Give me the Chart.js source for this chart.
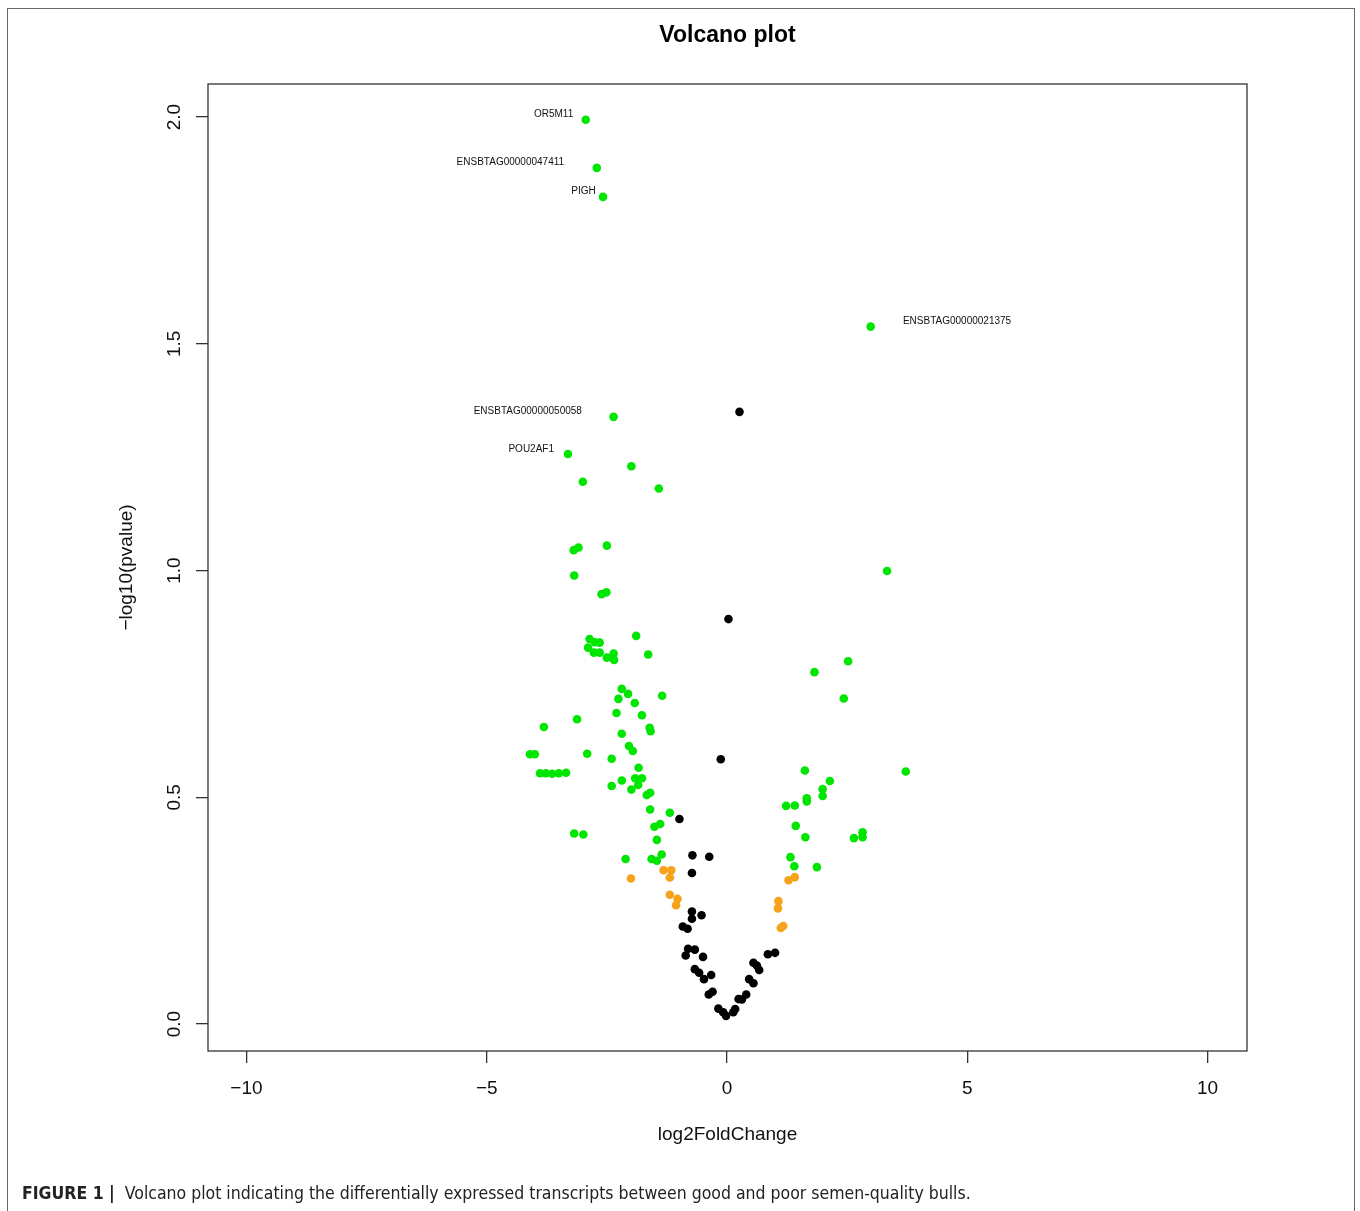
<!DOCTYPE html>
<html>
<head>
<meta charset="utf-8">
<title>Volcano plot</title>
<script src="https://cdn.jsdelivr.net/npm/chart.js@4"></script>
<style>
    html, body { margin: 0; padding: 0; background: #fff; }
    #wrap { position: relative; width: 1360px; height: 1211px; overflow: hidden; }
    #frame { position: absolute; left: 7px; top: 8px; width: 1348px; height: 1240px; border: 1px solid #666; box-sizing: border-box; }
    #chart { position: absolute; left: 0; top: 0; }
    #caption {
        position: absolute; left: 22px; top: 1183px; white-space: nowrap;
        font-family: "Liberation Sans Narrow", "DejaVu Sans Condensed", "Liberation Sans", sans-serif;
        font-stretch: condensed; font-size: 17.5px; color: #222;
    }
    #caption b { font-weight: bold; }
</style>
</head>
<body>
<div id="wrap">
    <div id="frame"></div>
    <canvas id="chart" width="1360" height="1211"></canvas>
    <div id="caption"><b>FIGURE 1 |</b>&nbsp; Volcano plot indicating the differentially expressed transcripts between good and poor semen-quality bulls.</div>
</div>
<script>
// Significant (|log2FC| > 1 and p-value cut) — green
const greenX = [-2.94, -2.71, -2.58, 2.99, -2.36, -3.31, -1.99, -3.00, -1.42, -3.19, -3.09, -2.50, -3.18, 3.33,
    -2.61, -2.51, -1.89, -2.86, -2.75, -2.65, -2.89, -2.77, -2.65, -1.64, -2.50, -2.36, -2.35,
    -2.19, -2.06, -1.35, -2.26, -1.92, -2.30, -1.77, -3.12, -3.81, -1.61, -1.59, -2.19, -2.04, -1.96,
    -4.10, -4.00, -2.91, -2.40, -1.84, -3.89, -3.77, -3.64, -3.50, -3.35, -2.19, -1.91, -1.77, -1.85,
    -2.40, -1.99, -1.67, -1.60, -1.60, -1.19, -1.51, -1.39, -3.18, -2.99, -1.46, -1.36, -2.11, -1.57, -1.46,
    2.52, 1.82, 2.43, 1.62, 3.72, 2.14, 1.99, 1.99, 1.66, 1.66, 1.23, 1.41, 1.43, 1.63, 2.64, 2.82, 2.82,
    1.32, 1.40, 1.87];
const greenY = [1.994, 1.888, 1.824, 1.538, 1.339, 1.257, 1.230, 1.196, 1.181, 1.045, 1.051, 1.055, 0.989, 0.999,
    0.948, 0.952, 0.856, 0.849, 0.842, 0.841, 0.830, 0.819, 0.819, 0.815, 0.808, 0.817, 0.803,
    0.739, 0.728, 0.724, 0.717, 0.708, 0.686, 0.681, 0.672, 0.655, 0.653, 0.646, 0.640, 0.613, 0.602,
    0.595, 0.595, 0.596, 0.585, 0.565, 0.553, 0.553, 0.552, 0.553, 0.554, 0.537, 0.542, 0.542, 0.527,
    0.525, 0.517, 0.505, 0.510, 0.473, 0.466, 0.435, 0.441, 0.420, 0.418, 0.406, 0.374, 0.364, 0.364, 0.360,
    0.800, 0.776, 0.718, 0.559, 0.557, 0.536, 0.518, 0.503, 0.498, 0.491, 0.481, 0.482, 0.437, 0.412, 0.410, 0.423, 0.412,
    0.368, 0.348, 0.346];

// |log2FC| > 1 only — orange
const orangeX = [-1.32, -1.16, -1.19, -2.00, -1.19, -1.03, -1.06, 1.07, 1.06, 1.12, 1.17, 1.28, 1.41];
const orangeY = [0.339, 0.339, 0.323, 0.321, 0.285, 0.276, 0.262, 0.271, 0.255, 0.212, 0.216, 0.317, 0.324];

// not significant — black
const blackX = [0.26, 0.03, -0.13, -0.99, -0.72, -0.37, -0.73, -0.73, -0.53, -0.73, -0.92, -0.82, -0.81, -0.67,
    -0.86, -0.50, -0.67, -0.58, -0.33, -0.48, -0.38, -0.30, -0.18, -0.08, -0.02, 0.13, 0.17, 0.24, 0.31,
    0.40, 0.46, 0.55, 0.55, 0.62, 0.67, 0.85, 1.00];
const blackY = [1.350, 0.893, 0.584, 0.452, 0.372, 0.369, 0.333, 0.248, 0.240, 0.232, 0.215, 0.210, 0.166, 0.164,
    0.151, 0.148, 0.121, 0.113, 0.108, 0.099, 0.065, 0.071, 0.034, 0.026, 0.018, 0.026, 0.033, 0.055, 0.054,
    0.065, 0.099, 0.090, 0.135, 0.129, 0.119, 0.154, 0.157];

// Gene labels, anchored in data units (text end for left labels, text start for right ones)
const labelText = ['OR5M11', 'ENSBTAG00000047411', 'PIGH', 'ENSBTAG00000050058', 'POU2AF1', 'ENSBTAG00000021375'];
const labelX = [-3.20, -3.39, -2.73, -3.02, -3.60, 3.66];
const labelY = [2.007, 1.901, 1.837, 1.352, 1.268, 1.550];
const labelSide = ['right', 'right', 'right', 'right', 'right', 'left'];

const xTicks = [-10, -5, 0, 5, 10];
const yTicks = [0, 0.5, 1, 1.5, 2];

const FONT = '"Liberation Sans", Arial, Helvetica, sans-serif';
const toPoints = (xs, ys) => xs.map((x, i) => ({ x, y: ys[i] }));

const plotBox = {
    id: 'plotBox',
    afterDraw(chart) {
        const { ctx, chartArea: a } = chart;
        ctx.save();
        ctx.strokeStyle = '#333';
        ctx.lineWidth = 1.3;
        ctx.strokeRect(a.left, a.top, a.right - a.left, a.bottom - a.top);
        ctx.restore();
    }
};

const geneLabels = {
    id: 'geneLabels',
    afterDatasetsDraw(chart) {
        const { ctx, scales } = chart;
        ctx.save();
        ctx.font = '10px ' + FONT;
        ctx.fillStyle = '#111';
        ctx.textBaseline = 'middle';
        labelText.forEach((t, i) => {
            ctx.textAlign = labelSide[i];
            ctx.fillText(t, scales.x.getPixelForValue(labelX[i]), scales.y.getPixelForValue(labelY[i]));
        });
        ctx.restore();
    }
};

new Chart(document.getElementById('chart').getContext('2d'), {
    type: 'scatter',
    data: {
        datasets: [
            { label: 'NS', data: toPoints(blackX, blackY), backgroundColor: '#000' },
            { label: 'FC', data: toPoints(orangeX, orangeY), backgroundColor: '#f7a21b' },
            { label: 'Sig', data: toPoints(greenX, greenY), backgroundColor: '#00e600' },
        ]
    },
    options: {
        responsive: false,
        animation: false,
        layout: { padding: { left: 100, right: 113, top: 0, bottom: 50 } },
        elements: { point: { radius: 4.3, borderWidth: 0, hoverRadius: 4.3 } },
        plugins: {
            legend: { display: false },
            tooltip: { enabled: false },
            title: {
                display: true,
                text: 'Volcano plot',
                fullSize: false,
                color: '#000',
                font: { family: FONT, size: 23, weight: 'bold' },
                padding: { top: 22, bottom: 34.4 },
            },
        },
        scales: {
            x: {
                type: 'linear',
                min: -10.8,
                max: 10.82,
                afterBuildTicks: s => { s.ticks = xTicks.map(v => ({ value: v })); },
                afterFit: s => { s.height = 110; },
                border: { display: false },
                grid: { drawOnChartArea: false, drawTicks: true, tickLength: 12, tickColor: '#333', lineWidth: 1.3 },
                ticks: {
                    color: '#111', padding: 14, maxRotation: 0,
                    font: { family: FONT, size: 19 },
                    callback: v => String(v).replace('-', '\u2212'),
                },
                title: {
                    display: true, text: 'log2FoldChange', color: '#111',
                    font: { family: FONT, size: 19 }, padding: { top: 0, bottom: 14.6 },
                },
            },
            y: {
                type: 'linear',
                min: -0.0595,
                max: 2.073,
                afterBuildTicks: s => { s.ticks = yTicks.map(v => ({ value: v })); },
                afterFit: s => { s.width = 108; },
                border: { display: false },
                grid: { drawOnChartArea: false, drawTicks: true, tickLength: 12, tickColor: '#333', lineWidth: 1.3 },
                ticks: {
                    color: '#111', padding: 8, minRotation: 90, maxRotation: 90, crossAlign: 'center',
                    font: { family: FONT, size: 19 },
                    callback: v => v.toFixed(1),
                },
                title: {
                    display: true, text: '\u2212log10(pvalue)', color: '#111',
                    font: { family: FONT, size: 19 }, padding: { top: 15.6, bottom: 0 },
                },
            },
        },
    },
    plugins: [plotBox, geneLabels],
});
</script>
</body>
</html>
